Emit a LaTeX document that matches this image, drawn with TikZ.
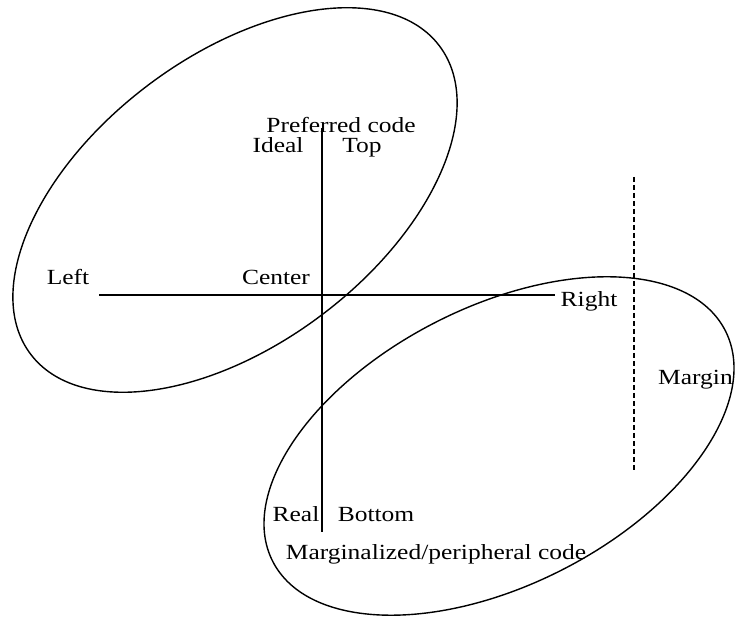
\documentclass[tikz,border=0pt]{standalone}
\usepackage{fontspec}
\setmainfont[FakeStretch=1.18]{Liberation Serif}
\usepackage{tikz}
\usetikzlibrary{positioning}
\tikzset{
  oval/.style={black,line width=1.4pt},
  achse/.style={black,line width=1.1pt},
  grenze/.style={black,line width=1.1pt,dash pattern=on 5pt off 3pt},
  lbl/.style={inner sep=0pt,anchor=base,font=\fontsize{21.6}{26}\selectfont},
}
\begin{document}
\begin{tikzpicture}[x=1pt,y=1pt]
  \useasboundingbox (0,0) rectangle (735,617);
  \draw[oval] (235,417) ellipse [x radius=256,y radius=144,rotate=37];
  \draw[oval] (499,171) ellipse [x radius=254,y radius=139,rotate=27];
  \coordinate (T) at (322,489);
  \coordinate (B) at (322,85);
  \coordinate (L) at (99,322);
  \coordinate (R) at (555,322);
  \coordinate (MT) at (634,440);
  \coordinate (MB) at (634,147);
  \draw[achse] (T)--(B);
  \draw[achse] (L)--(R);
  \draw[grenze] (MT)--(MB);
  \node[lbl] (pref) at (341,484) {Preferred code};
  \node[lbl] (ideal) at (278,464) {Ideal};
  \node[lbl] (top) at (362,464) {Top};
  \node[lbl] (left) at (68,332) {Left};
  \node[lbl] (center) at (276,332) {Center};
  \node[lbl] (right) at (589,310) {Right};
  \node[lbl,anchor=base west] (margin) at (658,232) {Margin};
  \node[lbl] (real) at (296,95) {Real};
  \node[lbl] (bottom) at (376,95) {Bottom};
  \node[lbl] (marg) at (436,57) {Marginalized/peripheral code};
\end{tikzpicture}
\end{document}
